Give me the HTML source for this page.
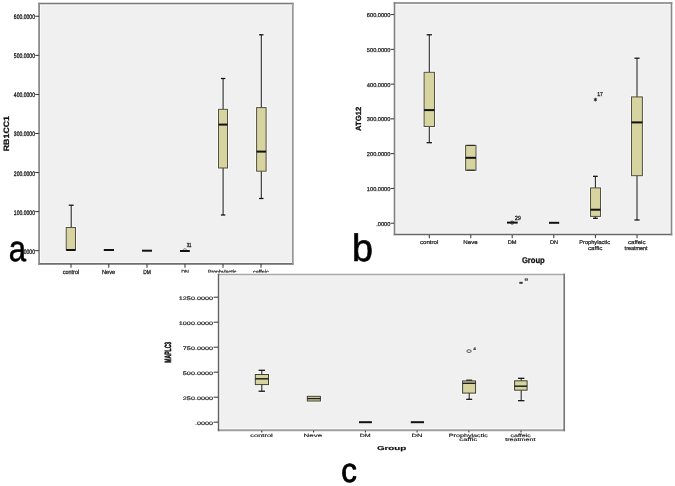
<!DOCTYPE html>
<html><head><meta charset="utf-8"><style>
html,body{margin:0;padding:0;background:#fff;}
svg{display:block;font-family:"Liberation Sans",sans-serif;text-rendering:geometricPrecision;will-change:transform;}
</style></head><body>
<svg width="675" height="486" viewBox="0 0 675 486">
<rect x="39.1" y="3.45" width="253.70000000000002" height="260.35" fill="#f0f0f0" stroke="none" stroke-width="1"/>
<rect x="40.50" y="4.75" width="250.90" height="257.65" fill="none" stroke="#fafafa" stroke-width="1"/>
<line x1="38.2" y1="3.45" x2="293.7" y2="3.45" stroke="#787878" stroke-width="1.6"/>
<line x1="38.2" y1="263.8" x2="293.7" y2="263.8" stroke="#6e6e6e" stroke-width="1.8"/>
<line x1="39.1" y1="2.6500000000000004" x2="39.1" y2="264.7" stroke="#8c8c8c" stroke-width="1.8"/>
<line x1="292.8" y1="2.6500000000000004" x2="292.8" y2="264.7" stroke="#999999" stroke-width="1.8"/>
<line x1="35.2" y1="250.7" x2="39" y2="250.7" stroke="#333" stroke-width="1"/>
<text transform="translate(22.31,253.70) scale(0.780,1)" font-size="6.50" fill="#222" stroke="#222" stroke-width="0.321">.0000</text>
<line x1="35.2" y1="211.63" x2="39" y2="211.63" stroke="#333" stroke-width="1"/>
<text transform="translate(13.85,214.63) scale(0.780,1)" font-size="6.50" fill="#222" stroke="#222" stroke-width="0.321">100.0000</text>
<line x1="35.2" y1="172.56" x2="39" y2="172.56" stroke="#333" stroke-width="1"/>
<text transform="translate(13.85,175.56) scale(0.780,1)" font-size="6.50" fill="#222" stroke="#222" stroke-width="0.321">200.0000</text>
<line x1="35.2" y1="133.49" x2="39" y2="133.49" stroke="#333" stroke-width="1"/>
<text transform="translate(13.85,136.49) scale(0.780,1)" font-size="6.50" fill="#222" stroke="#222" stroke-width="0.321">300.0000</text>
<line x1="35.2" y1="94.41999999999999" x2="39" y2="94.41999999999999" stroke="#333" stroke-width="1"/>
<text transform="translate(13.85,97.42) scale(0.780,1)" font-size="6.50" fill="#222" stroke="#222" stroke-width="0.321">400.0000</text>
<line x1="35.2" y1="55.349999999999994" x2="39" y2="55.349999999999994" stroke="#333" stroke-width="1"/>
<text transform="translate(13.85,58.35) scale(0.780,1)" font-size="6.50" fill="#222" stroke="#222" stroke-width="0.321">500.0000</text>
<line x1="35.2" y1="16.28" x2="39" y2="16.28" stroke="#333" stroke-width="1"/>
<text transform="translate(13.85,19.28) scale(0.780,1)" font-size="6.50" fill="#222" stroke="#222" stroke-width="0.321">600.0000</text>
<line x1="71" y1="264" x2="71" y2="267.8" stroke="#333" stroke-width="1"/>
<line x1="108.8" y1="264" x2="108.8" y2="267.8" stroke="#333" stroke-width="1"/>
<line x1="147" y1="264" x2="147" y2="267.8" stroke="#333" stroke-width="1"/>
<line x1="185" y1="264" x2="185" y2="267.8" stroke="#333" stroke-width="1"/>
<line x1="223" y1="264" x2="223" y2="267.8" stroke="#333" stroke-width="1"/>
<line x1="261" y1="264" x2="261" y2="267.8" stroke="#333" stroke-width="1"/>
<text transform="translate(62.77,274.30) scale(0.911,1)" font-size="6.00" fill="#222" stroke="#222" stroke-width="0.275">control</text>
<text transform="translate(102.04,274.30) scale(0.936,1)" font-size="6.00" fill="#222" stroke="#222" stroke-width="0.267">Neve</text>
<text transform="translate(143.30,274.30) scale(0.815,1)" font-size="6.00" fill="#222" stroke="#222" stroke-width="0.307">DM</text>
<text transform="translate(181.16,274.30) scale(0.885,1)" font-size="6.00" fill="#222" stroke="#222" stroke-width="0.283">DN</text>
<text transform="translate(207.97,274.30) scale(0.871,1)" font-size="6.00" fill="#222" stroke="#222" stroke-width="0.287">Prophylactic</text>
<text transform="translate(253.07,274.30) scale(0.904,1)" font-size="6.00" fill="#222" stroke="#222" stroke-width="0.277">caffeic</text>
<text transform="translate(8.57,151.24) rotate(-90) scale(1.134,1)" font-size="7.77" font-weight="bold" fill="#111" stroke="#111" stroke-width="0.265">RB1CC1</text>
<line x1="71.2" y1="205.2" x2="71.2" y2="227.5" stroke="#fbfbfb" stroke-width="2.5"/>
<line x1="68.10000000000001" y1="205.2" x2="74.3" y2="205.2" stroke="#fbfbfb" stroke-width="2.7"/>
<rect x="66.2" y="227.5" width="9.299999999999997" height="22.5" fill="none" stroke="#fbfbfb" stroke-width="2.8"/>
<line x1="71.2" y1="205.2" x2="71.2" y2="227.5" stroke="#262626" stroke-width="1.1"/>
<line x1="68.7" y1="205.2" x2="73.7" y2="205.2" stroke="#111" stroke-width="1.3"/>
<rect x="66.2" y="227.5" width="9.299999999999997" height="22.5" fill="#d8d4a0" stroke="#505045" stroke-width="1.0"/>
<line x1="66.2" y1="250.0" x2="75.5" y2="250.0" stroke="#111" stroke-width="2"/>
<line x1="103.8" y1="250.0" x2="114.0" y2="250.0" stroke="#111" stroke-width="2"/>
<line x1="142.0" y1="250.7" x2="152.0" y2="250.7" stroke="#111" stroke-width="2"/>
<circle cx="184.9" cy="250" r="1.4" fill="none" stroke="#666" stroke-width="0.7"/>
<line x1="180.0" y1="251.0" x2="189.8" y2="251.0" stroke="#111" stroke-width="2"/>
<text transform="translate(186.74,246.50) scale(0.683,1)" font-size="6.00" fill="#222" stroke="#222" stroke-width="0.366">31</text>
<line x1="223.1" y1="78.5" x2="223.1" y2="109.3" stroke="#fbfbfb" stroke-width="2.5"/>
<line x1="220.25" y1="78.5" x2="225.95" y2="78.5" stroke="#fbfbfb" stroke-width="2.7"/>
<line x1="223.1" y1="168" x2="223.1" y2="215" stroke="#fbfbfb" stroke-width="2.5"/>
<line x1="220.25" y1="215" x2="225.95" y2="215" stroke="#fbfbfb" stroke-width="2.7"/>
<rect x="218.5" y="109.3" width="9.0" height="58.7" fill="none" stroke="#fbfbfb" stroke-width="2.8"/>
<line x1="223.1" y1="78.5" x2="223.1" y2="109.3" stroke="#262626" stroke-width="1.1"/>
<line x1="220.85" y1="78.5" x2="225.35" y2="78.5" stroke="#111" stroke-width="1.3"/>
<line x1="223.1" y1="168" x2="223.1" y2="215" stroke="#262626" stroke-width="1.1"/>
<line x1="220.85" y1="215" x2="225.35" y2="215" stroke="#111" stroke-width="1.3"/>
<rect x="218.5" y="109.3" width="9.0" height="58.7" fill="#d8d4a0" stroke="#505045" stroke-width="1.0"/>
<line x1="218.5" y1="124.6" x2="227.5" y2="124.6" stroke="#111" stroke-width="2"/>
<line x1="261.3" y1="34.8" x2="261.3" y2="107.6" stroke="#fbfbfb" stroke-width="2.5"/>
<line x1="258.45" y1="34.8" x2="264.15000000000003" y2="34.8" stroke="#fbfbfb" stroke-width="2.7"/>
<line x1="261.3" y1="171.2" x2="261.3" y2="198.5" stroke="#fbfbfb" stroke-width="2.5"/>
<line x1="258.45" y1="198.5" x2="264.15000000000003" y2="198.5" stroke="#fbfbfb" stroke-width="2.7"/>
<rect x="256.6" y="107.6" width="9.5" height="63.599999999999994" fill="none" stroke="#fbfbfb" stroke-width="2.8"/>
<line x1="261.3" y1="34.8" x2="261.3" y2="107.6" stroke="#262626" stroke-width="1.1"/>
<line x1="259.05" y1="34.8" x2="263.55" y2="34.8" stroke="#111" stroke-width="1.3"/>
<line x1="261.3" y1="171.2" x2="261.3" y2="198.5" stroke="#262626" stroke-width="1.1"/>
<line x1="259.05" y1="198.5" x2="263.55" y2="198.5" stroke="#111" stroke-width="1.3"/>
<rect x="256.6" y="107.6" width="9.5" height="63.599999999999994" fill="#d8d4a0" stroke="#505045" stroke-width="1.0"/>
<line x1="256.6" y1="151.6" x2="266.1" y2="151.6" stroke="#111" stroke-width="2"/>
<rect x="394.5" y="3.0" width="277.0" height="231.5" fill="#f0f0f0" stroke="none" stroke-width="1"/>
<rect x="395.80" y="4.40" width="274.40" height="228.80" fill="none" stroke="#fafafa" stroke-width="1"/>
<line x1="393.7" y1="3.0" x2="672.3" y2="3.0" stroke="#9c9c9c" stroke-width="1.8"/>
<line x1="393.7" y1="234.5" x2="672.3" y2="234.5" stroke="#6a6a6a" stroke-width="1.6"/>
<line x1="394.5" y1="2.1" x2="394.5" y2="235.3" stroke="#808080" stroke-width="1.6"/>
<line x1="671.5" y1="2.1" x2="671.5" y2="235.3" stroke="#888888" stroke-width="1.6"/>
<line x1="390.6" y1="223.2" x2="394" y2="223.2" stroke="#333" stroke-width="1"/>
<text transform="translate(376.28,225.60) scale(1.000,1)" font-size="5.65" fill="#222" stroke="#222" stroke-width="0.250">.0000</text>
<line x1="390.6" y1="188.42999999999998" x2="394" y2="188.42999999999998" stroke="#333" stroke-width="1"/>
<text transform="translate(366.86,190.83) scale(1.000,1)" font-size="5.65" fill="#222" stroke="#222" stroke-width="0.250">100.0000</text>
<line x1="390.6" y1="153.65999999999997" x2="394" y2="153.65999999999997" stroke="#333" stroke-width="1"/>
<text transform="translate(366.86,156.06) scale(1.000,1)" font-size="5.65" fill="#222" stroke="#222" stroke-width="0.250">200.0000</text>
<line x1="390.6" y1="118.88999999999999" x2="394" y2="118.88999999999999" stroke="#333" stroke-width="1"/>
<text transform="translate(366.86,121.29) scale(1.000,1)" font-size="5.65" fill="#222" stroke="#222" stroke-width="0.250">300.0000</text>
<line x1="390.6" y1="84.11999999999998" x2="394" y2="84.11999999999998" stroke="#333" stroke-width="1"/>
<text transform="translate(366.86,86.52) scale(1.000,1)" font-size="5.65" fill="#222" stroke="#222" stroke-width="0.250">400.0000</text>
<line x1="390.6" y1="49.349999999999994" x2="394" y2="49.349999999999994" stroke="#333" stroke-width="1"/>
<text transform="translate(366.86,51.75) scale(1.000,1)" font-size="5.65" fill="#222" stroke="#222" stroke-width="0.250">500.0000</text>
<line x1="390.6" y1="14.579999999999984" x2="394" y2="14.579999999999984" stroke="#333" stroke-width="1"/>
<text transform="translate(366.86,16.98) scale(1.000,1)" font-size="5.65" fill="#222" stroke="#222" stroke-width="0.250">600.0000</text>
<line x1="429.3" y1="235" x2="429.3" y2="238.2" stroke="#333" stroke-width="1"/>
<line x1="470.8" y1="235" x2="470.8" y2="238.2" stroke="#333" stroke-width="1"/>
<line x1="512.2" y1="235" x2="512.2" y2="238.2" stroke="#333" stroke-width="1"/>
<line x1="553.8" y1="235" x2="553.8" y2="238.2" stroke="#333" stroke-width="1"/>
<line x1="595.4" y1="235" x2="595.4" y2="238.2" stroke="#333" stroke-width="1"/>
<line x1="637.0" y1="235" x2="637.0" y2="238.2" stroke="#333" stroke-width="1"/>
<text transform="translate(420.04,244.40) scale(1.117,1)" font-size="5.45" fill="#222" stroke="#222" stroke-width="0.224">control</text>
<text transform="translate(463.29,244.40) scale(1.130,1)" font-size="5.45" fill="#222" stroke="#222" stroke-width="0.221">Neve</text>
<text transform="translate(507.73,244.40) scale(1.042,1)" font-size="5.45" fill="#222" stroke="#222" stroke-width="0.240">DM</text>
<text transform="translate(549.95,244.40) scale(1.017,1)" font-size="5.45" fill="#222" stroke="#222" stroke-width="0.246">DN</text>
<text transform="translate(579.34,244.40) scale(1.035,1)" font-size="5.45" fill="#222" stroke="#222" stroke-width="0.242">Prophylactic</text>
<text transform="translate(588.04,249.70) scale(1.134,1)" font-size="5.45" fill="#222" stroke="#222" stroke-width="0.220">caffic</text>
<text transform="translate(628.04,244.40) scale(1.119,1)" font-size="5.45" fill="#222" stroke="#222" stroke-width="0.223">caffeic</text>
<text transform="translate(624.62,249.70) scale(1.000,1)" font-size="5.45" fill="#222" stroke="#222" stroke-width="0.250">treatment</text>
<text transform="translate(521.89,263.10) scale(0.910,1)" font-size="8.40" font-weight="bold" fill="#111" stroke="#111" stroke-width="0.275">Group</text>
<text transform="translate(361.38,131.04) rotate(-90) scale(1.028,1)" font-size="7.49" font-weight="bold" fill="#111" stroke="#111" stroke-width="0.292">ATG12</text>
<line x1="429.3" y1="34.8" x2="429.3" y2="72.3" stroke="#fbfbfb" stroke-width="2.5"/>
<line x1="426.0" y1="34.8" x2="432.6" y2="34.8" stroke="#fbfbfb" stroke-width="2.7"/>
<line x1="429.3" y1="126.5" x2="429.3" y2="142.7" stroke="#fbfbfb" stroke-width="2.5"/>
<line x1="426.0" y1="142.7" x2="432.6" y2="142.7" stroke="#fbfbfb" stroke-width="2.7"/>
<rect x="424.1" y="72.3" width="10.399999999999977" height="54.2" fill="none" stroke="#fbfbfb" stroke-width="2.8"/>
<line x1="429.3" y1="34.8" x2="429.3" y2="72.3" stroke="#262626" stroke-width="1.1"/>
<line x1="426.6" y1="34.8" x2="432.0" y2="34.8" stroke="#111" stroke-width="1.3"/>
<line x1="429.3" y1="126.5" x2="429.3" y2="142.7" stroke="#262626" stroke-width="1.1"/>
<line x1="426.6" y1="142.7" x2="432.0" y2="142.7" stroke="#111" stroke-width="1.3"/>
<rect x="424.1" y="72.3" width="10.399999999999977" height="54.2" fill="#d8d4a0" stroke="#505045" stroke-width="1.0"/>
<line x1="424.1" y1="110.1" x2="434.5" y2="110.1" stroke="#111" stroke-width="2"/>
<rect x="465.6" y="145.3" width="10.399999999999977" height="25.0" fill="none" stroke="#fbfbfb" stroke-width="2.8"/>
<rect x="465.6" y="145.3" width="10.399999999999977" height="25.0" fill="#d8d4a0" stroke="#505045" stroke-width="1.0"/>
<line x1="465.6" y1="157.8" x2="476.0" y2="157.8" stroke="#111" stroke-width="2"/>
<line x1="466.7" y1="145.4" x2="474.9" y2="145.4" stroke="#222" stroke-width="1.0"/>
<line x1="466.7" y1="170.2" x2="474.9" y2="170.2" stroke="#222" stroke-width="1.0"/>
<line x1="507" y1="222.6" x2="517.7" y2="222.6" stroke="#111" stroke-width="2"/>
<circle cx="512.2" cy="222.6" r="1.6" fill="none" stroke="#222" stroke-width="0.8"/>
<text transform="translate(514.72,219.60) scale(0.936,1)" font-size="6.00" fill="#222" stroke="#222" stroke-width="0.267">29</text>
<line x1="549" y1="222.8" x2="559.2" y2="222.8" stroke="#111" stroke-width="2"/>
<line x1="595.4" y1="176.3" x2="595.4" y2="187.9" stroke="#fbfbfb" stroke-width="2.5"/>
<line x1="592.4" y1="176.3" x2="598.4" y2="176.3" stroke="#fbfbfb" stroke-width="2.7"/>
<line x1="595.4" y1="216.4" x2="595.4" y2="218.3" stroke="#fbfbfb" stroke-width="2.5"/>
<line x1="592.4" y1="218.3" x2="598.4" y2="218.3" stroke="#fbfbfb" stroke-width="2.7"/>
<rect x="590.5" y="187.9" width="10.0" height="28.5" fill="none" stroke="#fbfbfb" stroke-width="2.8"/>
<line x1="595.4" y1="176.3" x2="595.4" y2="187.9" stroke="#262626" stroke-width="1.1"/>
<line x1="593.0" y1="176.3" x2="597.8" y2="176.3" stroke="#111" stroke-width="1.3"/>
<line x1="595.4" y1="216.4" x2="595.4" y2="218.3" stroke="#262626" stroke-width="1.1"/>
<line x1="593.0" y1="218.3" x2="597.8" y2="218.3" stroke="#111" stroke-width="1.3"/>
<rect x="590.5" y="187.9" width="10.0" height="28.5" fill="#d8d4a0" stroke="#505045" stroke-width="1.0"/>
<line x1="590.5" y1="209.7" x2="600.5" y2="209.7" stroke="#111" stroke-width="2"/>
<line x1="595.4" y1="97.8" x2="595.4" y2="101.4" stroke="#222" stroke-width="1.0"/>
<line x1="593.84" y1="98.7" x2="596.96" y2="100.5" stroke="#222" stroke-width="1.0"/>
<line x1="593.84" y1="100.5" x2="596.96" y2="98.7" stroke="#222" stroke-width="1.0"/>
<text transform="translate(597.21,96.20) scale(0.908,1)" font-size="5.70" fill="#222" stroke="#222" stroke-width="0.275">17</text>
<line x1="637" y1="58.2" x2="637" y2="96.9" stroke="#fbfbfb" stroke-width="2.5"/>
<line x1="633.8" y1="58.2" x2="640.2" y2="58.2" stroke="#fbfbfb" stroke-width="2.7"/>
<line x1="637" y1="175.7" x2="637" y2="220" stroke="#fbfbfb" stroke-width="2.5"/>
<line x1="633.8" y1="220" x2="640.2" y2="220" stroke="#fbfbfb" stroke-width="2.7"/>
<rect x="631.5" y="96.9" width="10.899999999999977" height="78.79999999999998" fill="none" stroke="#fbfbfb" stroke-width="2.8"/>
<line x1="637" y1="58.2" x2="637" y2="96.9" stroke="#262626" stroke-width="1.1"/>
<line x1="634.4" y1="58.2" x2="639.6" y2="58.2" stroke="#111" stroke-width="1.3"/>
<line x1="637" y1="175.7" x2="637" y2="220" stroke="#262626" stroke-width="1.1"/>
<line x1="634.4" y1="220" x2="639.6" y2="220" stroke="#111" stroke-width="1.3"/>
<rect x="631.5" y="96.9" width="10.899999999999977" height="78.79999999999998" fill="#d8d4a0" stroke="#505045" stroke-width="1.0"/>
<line x1="631.5" y1="122.4" x2="642.4" y2="122.4" stroke="#111" stroke-width="2"/>
<text transform="translate(8.83,261.10) scale(0.866,1)" font-size="35.96" fill="#000" stroke="#000" stroke-width="0.577" stroke-linejoin="round">a</text>
<text transform="translate(352.06,260.93) scale(0.988,1)" font-size="38.26" fill="#000" stroke="#000" stroke-width="0.607" stroke-linejoin="round">b</text>
<rect x="158" y="272.6" width="520" height="220" fill="#fff" stroke="none" stroke-width="1"/>
<rect x="218.5" y="274.5" width="345.70000000000005" height="155.7" fill="#f0f0f0" stroke="none" stroke-width="1"/>
<rect x="219.70" y="275.80" width="343.15" height="152.90" fill="none" stroke="#fafafa" stroke-width="1"/>
<line x1="217.8" y1="274.5" x2="565.0500000000001" y2="274.5" stroke="#a8a8a8" stroke-width="1.6"/>
<line x1="217.8" y1="430.2" x2="565.0500000000001" y2="430.2" stroke="#a0a0a0" stroke-width="2.0"/>
<line x1="218.5" y1="273.7" x2="218.5" y2="431.2" stroke="#606060" stroke-width="1.4"/>
<line x1="564.2" y1="273.7" x2="564.2" y2="431.2" stroke="#7a7a7a" stroke-width="1.7"/>
<line x1="213.6" y1="422.2" x2="218" y2="422.2" stroke="#333" stroke-width="1"/>
<text transform="translate(194.94,424.70) scale(1.450,1)" font-size="5.00" fill="#222" stroke="#222" stroke-width="0.172">.0000</text>
<line x1="213.6" y1="397.2" x2="218" y2="397.2" stroke="#333" stroke-width="1"/>
<text transform="translate(182.84,399.70) scale(1.450,1)" font-size="5.00" fill="#222" stroke="#222" stroke-width="0.172">250.0000</text>
<line x1="213.6" y1="372.2" x2="218" y2="372.2" stroke="#333" stroke-width="1"/>
<text transform="translate(182.84,374.70) scale(1.450,1)" font-size="5.00" fill="#222" stroke="#222" stroke-width="0.172">500.0000</text>
<line x1="213.6" y1="347.2" x2="218" y2="347.2" stroke="#333" stroke-width="1"/>
<text transform="translate(182.84,349.70) scale(1.450,1)" font-size="5.00" fill="#222" stroke="#222" stroke-width="0.172">750.0000</text>
<line x1="213.6" y1="322.2" x2="218" y2="322.2" stroke="#333" stroke-width="1"/>
<text transform="translate(178.81,324.70) scale(1.450,1)" font-size="5.00" fill="#222" stroke="#222" stroke-width="0.172">1000.0000</text>
<line x1="213.6" y1="297.2" x2="218" y2="297.2" stroke="#333" stroke-width="1"/>
<text transform="translate(178.81,299.70) scale(1.450,1)" font-size="5.00" fill="#222" stroke="#222" stroke-width="0.172">1250.0000</text>
<line x1="261.8" y1="430.6" x2="261.8" y2="432.5" stroke="#333" stroke-width="1"/>
<line x1="313.6" y1="430.6" x2="313.6" y2="432.5" stroke="#333" stroke-width="1"/>
<line x1="365.4" y1="430.6" x2="365.4" y2="432.5" stroke="#333" stroke-width="1"/>
<line x1="417.1" y1="430.6" x2="417.1" y2="432.5" stroke="#333" stroke-width="1"/>
<line x1="468.9" y1="430.6" x2="468.9" y2="432.5" stroke="#333" stroke-width="1"/>
<line x1="521.0" y1="430.6" x2="521.0" y2="432.5" stroke="#333" stroke-width="1"/>
<text transform="translate(250.28,437.20) scale(1.631,1)" font-size="4.60" fill="#222" stroke="#222" stroke-width="0.153">control</text>
<text transform="translate(303.55,437.20) scale(1.723,1)" font-size="4.60" fill="#222" stroke="#222" stroke-width="0.145">Neve</text>
<text transform="translate(359.72,437.20) scale(1.531,1)" font-size="4.60" fill="#222" stroke="#222" stroke-width="0.163">DM</text>
<text transform="translate(411.47,437.20) scale(1.663,1)" font-size="4.60" fill="#222" stroke="#222" stroke-width="0.150">DN</text>
<text transform="translate(448.81,437.20) scale(1.560,1)" font-size="4.60" fill="#222" stroke="#222" stroke-width="0.160">Prophylactic</text>
<text transform="translate(459.37,440.90) scale(1.689,1)" font-size="4.60" fill="#222" stroke="#222" stroke-width="0.148">caffic</text>
<text transform="translate(510.40,437.20) scale(1.541,1)" font-size="4.60" fill="#222" stroke="#222" stroke-width="0.162">caffeic</text>
<text transform="translate(505.19,440.90) scale(1.557,1)" font-size="4.60" fill="#222" stroke="#222" stroke-width="0.161">treatment</text>
<text transform="translate(376.90,449.70) scale(1.726,1)" font-size="5.70" font-weight="bold" fill="#111" stroke="#111" stroke-width="0.145">Group</text>
<text transform="translate(171.15,362.69) rotate(-90) scale(0.561,1)" font-size="9.02" font-weight="bold" fill="#111" stroke="#111" stroke-width="0.534">MAPLC3</text>
<line x1="261.8" y1="370.3" x2="261.8" y2="374.5" stroke="#fbfbfb" stroke-width="2.5"/>
<line x1="257.95" y1="370.3" x2="265.65000000000003" y2="370.3" stroke="#fbfbfb" stroke-width="2.7"/>
<line x1="261.8" y1="384.6" x2="261.8" y2="391.2" stroke="#fbfbfb" stroke-width="2.5"/>
<line x1="257.95" y1="391.2" x2="265.65000000000003" y2="391.2" stroke="#fbfbfb" stroke-width="2.7"/>
<rect x="255.3" y="374.5" width="13.199999999999989" height="10.100000000000023" fill="none" stroke="#fbfbfb" stroke-width="2.8"/>
<line x1="261.8" y1="370.3" x2="261.8" y2="374.5" stroke="#262626" stroke-width="1.1"/>
<line x1="258.55" y1="370.3" x2="265.05" y2="370.3" stroke="#111" stroke-width="1.3"/>
<line x1="261.8" y1="384.6" x2="261.8" y2="391.2" stroke="#262626" stroke-width="1.1"/>
<line x1="258.55" y1="391.2" x2="265.05" y2="391.2" stroke="#111" stroke-width="1.3"/>
<rect x="255.3" y="374.5" width="13.199999999999989" height="10.100000000000023" fill="#d8d4a0" stroke="#3e3e34" stroke-width="1.0"/>
<line x1="255.3" y1="378.8" x2="268.5" y2="378.8" stroke="#222" stroke-width="1.5"/>
<rect x="307.3" y="396.3" width="13.099999999999966" height="4.699999999999989" fill="none" stroke="#fbfbfb" stroke-width="2.8"/>
<rect x="307.3" y="396.3" width="13.099999999999966" height="4.699999999999989" fill="#d8d4a0" stroke="#3e3e34" stroke-width="1.0"/>
<line x1="307.3" y1="398.6" x2="320.4" y2="398.6" stroke="#222" stroke-width="1.4"/>
<line x1="359" y1="422.2" x2="371.9" y2="422.2" stroke="#111" stroke-width="2"/>
<line x1="410.8" y1="422.2" x2="424" y2="422.2" stroke="#111" stroke-width="2"/>
<line x1="469.2" y1="380.2" x2="469.2" y2="380.9" stroke="#fbfbfb" stroke-width="2.5"/>
<line x1="465.59999999999997" y1="380.2" x2="472.8" y2="380.2" stroke="#fbfbfb" stroke-width="2.7"/>
<line x1="469.2" y1="393.1" x2="469.2" y2="399.3" stroke="#fbfbfb" stroke-width="2.5"/>
<line x1="465.59999999999997" y1="399.3" x2="472.8" y2="399.3" stroke="#fbfbfb" stroke-width="2.7"/>
<rect x="462.6" y="380.9" width="13.0" height="12.200000000000045" fill="none" stroke="#fbfbfb" stroke-width="2.8"/>
<line x1="469.2" y1="380.2" x2="469.2" y2="380.9" stroke="#262626" stroke-width="1.1"/>
<line x1="466.2" y1="380.2" x2="472.2" y2="380.2" stroke="#111" stroke-width="1.3"/>
<line x1="469.2" y1="393.1" x2="469.2" y2="399.3" stroke="#262626" stroke-width="1.1"/>
<line x1="466.2" y1="399.3" x2="472.2" y2="399.3" stroke="#111" stroke-width="1.3"/>
<rect x="462.6" y="380.9" width="13.0" height="12.200000000000045" fill="#d8d4a0" stroke="#3e3e34" stroke-width="1.0"/>
<line x1="462.6" y1="383.3" x2="475.6" y2="383.3" stroke="#222" stroke-width="1.4"/>
<ellipse cx="469.05" cy="351.1" rx="2.2" ry="1.4" fill="none" stroke="#333" stroke-width="0.8"/>
<text transform="translate(473.19,349.70) scale(1.287,1)" font-size="3.70" fill="#222" stroke="#222" stroke-width="0.194">4</text>
<line x1="521.2" y1="378.3" x2="521.2" y2="380.8" stroke="#fbfbfb" stroke-width="2.5"/>
<line x1="517.35" y1="378.3" x2="525.0500000000001" y2="378.3" stroke="#fbfbfb" stroke-width="2.7"/>
<line x1="521.2" y1="390.2" x2="521.2" y2="400.7" stroke="#fbfbfb" stroke-width="2.5"/>
<line x1="517.35" y1="400.7" x2="525.0500000000001" y2="400.7" stroke="#fbfbfb" stroke-width="2.7"/>
<rect x="514.6" y="380.8" width="12.5" height="9.399999999999977" fill="none" stroke="#fbfbfb" stroke-width="2.8"/>
<line x1="521.2" y1="378.3" x2="521.2" y2="380.8" stroke="#262626" stroke-width="1.1"/>
<line x1="517.95" y1="378.3" x2="524.45" y2="378.3" stroke="#111" stroke-width="1.3"/>
<line x1="521.2" y1="390.2" x2="521.2" y2="400.7" stroke="#262626" stroke-width="1.1"/>
<line x1="517.95" y1="400.7" x2="524.45" y2="400.7" stroke="#111" stroke-width="1.3"/>
<rect x="514.6" y="380.8" width="12.5" height="9.399999999999977" fill="#d8d4a0" stroke="#3e3e34" stroke-width="1.0"/>
<line x1="514.6" y1="386.2" x2="527.1" y2="386.2" stroke="#222" stroke-width="1.5"/>
<line x1="521.0" y1="281.7" x2="521.0" y2="283.9" stroke="#222" stroke-width="0.9"/>
<line x1="519.27" y1="282.25" x2="522.73" y2="283.35" stroke="#222" stroke-width="0.9"/>
<line x1="519.27" y1="283.35" x2="522.73" y2="282.25" stroke="#222" stroke-width="0.9"/>
<text transform="translate(524.61,280.80) scale(1.610,1)" font-size="3.90" fill="#222" stroke="#222" stroke-width="0.155">9</text>
<text transform="translate(341.27,481.87) scale(0.917,1)" font-size="34.13" fill="#000" stroke="#000" stroke-width="0.872" stroke-linejoin="round">c</text>
</svg>
</body></html>
